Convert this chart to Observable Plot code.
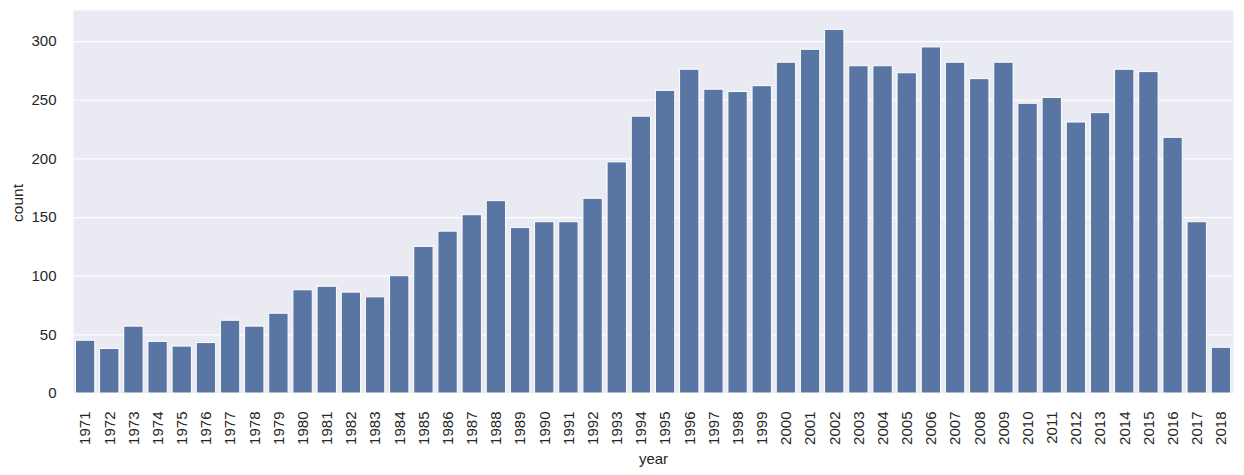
<!DOCTYPE html>
<html><head><meta charset="utf-8">
<script src="https://cdn.jsdelivr.net/npm/d3@7"></script>
<script src="https://cdn.jsdelivr.net/npm/@observablehq/plot@0.6"></script>
<style>body{margin:0;background:#fff}</style>
</head><body><div id="chart"></div>
<script>
const years = ["1971","1972","1973","1974","1975","1976","1977","1978","1979","1980",
  "1981","1982","1983","1984","1985","1986","1987","1988","1989","1990",
  "1991","1992","1993","1994","1995","1996","1997","1998","1999","2000",
  "2001","2002","2003","2004","2005","2006","2007","2008","2009","2010",
  "2011","2012","2013","2014","2015","2016","2017","2018"];
const counts = [45,38,57,44,40,43,62,57,68,88,
  91,86,82,100,125,138,152,164,141,146,
  146,166,197,236,258,276,259,257,262,282,
  293,310,279,279,273,295,282,268,282,247,
  252,231,239,276,274,218,146,39];
const yTicks = [0,50,100,150,200,250,300];
const xLabel = "year";
const yLabel = "count";

const data = years.map((y, i) => ({year: y, count: counts[i]}));

const chart = Plot.plot({
  width: 1244, height: 475,
  marginTop: 10, marginBottom: 82, marginLeft: 73, marginRight: 11,
  style: {fontFamily: "Arial, 'Liberation Sans', sans-serif", fontSize: "15px", color: "#262626", background: "white"},
  x: {type: "band", domain: years, paddingInner: 0.2, paddingOuter: 0.1, align: 0.5, round: false, label: null},
  y: {domain: [0, 326.5], label: null},
  marks: [
    Plot.frame({fill: "#eaeaf2", stroke: null}),
    Plot.gridY(yTicks, {stroke: "white", strokeOpacity: 1, strokeWidth: 1.2}),
    Plot.barY(data, {x: "year", y: "count", fill: "#5975a4", stroke: "white", strokeWidth: 1}),
    Plot.axisX({tickSize: 0, tickPadding: 18, tickRotate: -90, label: null, fill: "#262626", fontSize: 15}),
    Plot.axisY(yTicks, {tickSize: 0, tickPadding: 17, label: null, fill: "#262626", fontSize: 15}),
    Plot.text([xLabel], {frameAnchor: "bottom", dy: 66, fontSize: 15, lineAnchor: "middle", textAnchor: "middle", fill: "#262626"}),
    Plot.text([yLabel], {frameAnchor: "left", dx: -55, dy: 1, rotate: -90, fontSize: 15.5, lineAnchor: "middle", textAnchor: "middle", fill: "#262626"})
  ]
});
document.getElementById("chart").appendChild(chart);
</script>
</body></html>
